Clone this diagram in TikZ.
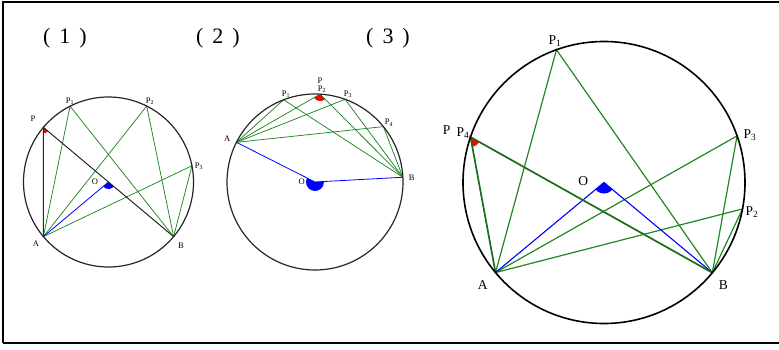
\documentclass[tikz,border=0pt]{standalone}
\usepackage{fontspec}
\setmainfont{Liberation Serif}
\begin{document}
\begin{tikzpicture}[x=1pt,y=1pt,
  circ/.style={draw=black!85,line width=1.2pt},
  bigcirc/.style={draw=black,line width=1.6pt},
  gl/.style={draw=gr,line width=0.75pt},
  gbig/.style={draw=gr,line width=1.2pt},
  bl/.style={draw=blue,line width=0.8pt},
  bbig/.style={draw=blue,line width=1.1pt},
  sl/.style={font=\fontsize{8.5}{9}\selectfont,inner sep=0pt},
  ll/.style={font=\fontsize{13.5}{15}\selectfont,inner sep=0pt},
  tl/.style={font=\fontsize{22}{24}\selectfont,inner sep=0pt}]
\definecolor{gr}{RGB}{34,135,34}
\useasboundingbox (0,0) rectangle (779,349);
\draw[line width=1.8pt] (3,6) -- (3,347) -- (785,347);
\draw[line width=1.8pt] (3,6) -- (785,6);
% titles
\node[tl] (t1) at (65,311) {(\hspace{9pt}1\hspace{9pt})};
\node[tl] (t2) at (218,311) {(\hspace{9pt}2\hspace{9pt})};
\node[tl] (t3) at (388,311) {(\hspace{9pt}3\hspace{9pt})};
% ---------- diagram 1
\coordinate (O1) at (108.5,167);
\coordinate (A1) at ([shift={(220:85)}]O1);
\coordinate (B1) at ([shift={(320:85)}]O1);
\coordinate (P1) at ([shift={(140:85)}]O1);
\coordinate (Q11) at ([shift={(116.9:85)}]O1);
\coordinate (Q12) at ([shift={(63.3:85)}]O1);
\coordinate (Q13) at ([shift={(11:85)}]O1);
\fill[red] (P1) -- ++(270:6) arc[start angle=270,end angle=320,radius=6] -- cycle;
\fill[blue] (O1) -- ++(220:7) arc[start angle=220,end angle=320,radius=7] -- cycle;
\draw[gl] (A1) -- (Q11) -- (B1);
\draw[gl] (A1) -- (Q12) -- (B1);
\draw[gl] (A1) -- (Q13) -- (B1);
\draw[bl] (A1) -- (O1);
\draw[black!85,line width=1pt] (A1) -- (P1) -- (B1);
\draw[circ] (O1) circle[radius=85];
\node[sl] (lP1) at (33,230) {P};
\node[sl] (lQ11) at (70,248) {P\textsubscript{1}};
\node[sl] (lQ12) at (150,248) {P\textsubscript{2}};
\node[sl] (lQ13) at (199,183) {P\textsubscript{3}};
\node[sl] (lA1) at (36,105) {A};
\node[sl] (lB1) at (181,103) {B};
\node[sl] (lO1) at (95,167) {O};
% ---------- diagram 2
\coordinate (O2) at (315,167);
\coordinate (A2) at ([shift={(153.2:88)}]O2);
\coordinate (B2) at ([shift={(3.1:88)}]O2);
\coordinate (Q21) at ([shift={(110.9:88)}]O2);
\coordinate (Q22) at ([shift={(86.7:88)}]O2);
\coordinate (Q23) at ([shift={(70:88)}]O2);
\coordinate (Q24) at ([shift={(39:88)}]O2);
\fill[red] (Q22) -- ++(209.95:7) arc[start angle=209.95,end angle=314.9,radius=7] -- cycle;
\fill[blue] (O2) -- ++(153.2:9) arc[start angle=153.2,end angle=363.1,radius=9] -- cycle;
\draw[gl] (A2) -- (Q21) -- (B2);
\draw[gl] (A2) -- (Q22) -- (B2);
\draw[gl] (A2) -- (Q23) -- (B2);
\draw[gl] (A2) -- (Q24) -- (B2);
\draw[bl] (A2) -- (O2) -- (B2);
\draw[circ] (O2) circle[radius=88];
\node[sl] (lP2) at (320,268.3) {P};
\node[sl] (lQ22) at (322,259.7) {P\textsubscript{2}};
\node[sl] (lQ21) at (286,254.7) {P\textsubscript{1}};
\node[sl] (lQ23) at (348,254.7) {P\textsubscript{3}};
\node[sl] (lQ24) at (389,226.3) {P\textsubscript{4}};
\node[sl] (lA2) at (227.3,210) {A};
\node[sl] (lB2) at (411.7,171.7) {B};
\node[sl] (lO2) at (301.7,167.3) {O};
% ---------- diagram 3
\coordinate (O3) at (604,166.5);
\coordinate (A3) at ([shift={(219.7:141)}]O3);
\coordinate (B3) at ([shift={(320.2:141)}]O3);
\coordinate (Q31) at ([shift={(109.7:141)}]O3);
\coordinate (Q32) at ([shift={(-10.8:141)}]O3);
\coordinate (Q33) at ([shift={(19.3:141)}]O3);
\coordinate (Q34) at ([shift={(161.2:141)}]O3);
\fill[red] (Q34) -- ++(280.45:10) arc[start angle=280.45,end angle=330.7,radius=10] -- cycle;
\fill[blue] (O3) -- ++(219.7:11) arc[start angle=219.7,end angle=320.2,radius=11] -- cycle;
\draw[gbig] (A3) -- (Q31) -- (B3);
\draw[gbig] (A3) -- (Q32) -- (B3);
\draw[gbig] (A3) -- (Q33) -- (B3);
\draw[bbig] (A3) -- (O3) -- (B3);
\draw[gbig,draw=gr!80!black,line width=1.7pt] (A3) -- (Q34) -- (B3);
\draw[bigcirc] (O3) circle[radius=141];
\node[ll] (lP3) at (446.7,219) {P};
\node[ll] (lQ34) at (463,216) {P\textsubscript{4}};
\node[ll] (lQ31) at (555,308.3) {P\textsubscript{1}};
\node[ll] (lQ33) at (750,214) {P\textsubscript{3}};
\node[ll] (lQ32) at (752,137.3) {P\textsubscript{2}};
\node[ll] (lA3) at (482.7,64) {A};
\node[ll] (lB3) at (723.3,64) {B};
\node[ll] (lO3) at (583.3,168.3) {O};
\end{tikzpicture}
\end{document}
